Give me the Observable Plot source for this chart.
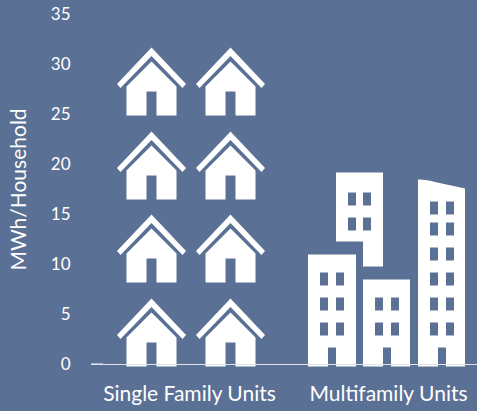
<!DOCTYPE html>
<html>
<head>
<meta charset="utf-8">
<script src="https://cdn.jsdelivr.net/npm/d3@7"></script>
<script src="https://cdn.jsdelivr.net/npm/@observablehq/plot@0.6"></script>
<style>
html,body{margin:0;padding:0;background:#5a7095;overflow:hidden}
svg{display:block}
</style>
</head>
<body>
<div id="chart"></div>
<script>
const categories = ["Single Family Units", "Multifamily Units"];
const houseLevels = [3.2, 11.6, 19.9, 28.3];
const apartmentLevels = [9.5];
const yTicks = [0, 5, 10, 15, 20, 25, 30, 35];
const stubLevels = [0.1];
const yTitle = ["MWh/Household"];
const bg = "#5a7095";

function poly(c, pts) {
  pts.forEach(([x, y], i) => i ? c.lineTo(x, y) : c.moveTo(x, y));
  c.closePath();
}
function hole(c, x, y, w, h) {
  poly(c, [[x, y], [x, y + h], [x + w, y + h], [x + w, y]]);
}
const houseSymbol = {
  draw(c) {
    poly(c, [[0, -34], [34.5, 2.5], [31, 6.5], [0, -25.5], [-31, 6.5], [-34.5, 2.5]]);
    poly(c, [[0, -20], [25, 5], [25, 34], [5, 34], [5, 10], [-5, 10], [-5, 34], [-25, 34], [-25, 5]]);
  }
};
function tower(c, x0, x1, top, doorX, rows, cols) {
  poly(c, [[x0, top], [x1, top], [x1, 97], [doorX + 8, 97], [doorX + 8, 78], [doorX, 78], [doorX, 97], [x0, 97]]);
  rows.forEach(y => cols.forEach(x => hole(c, x, y, 8, 13)));
}
const apartmentSymbol = {
  draw(c) {
    tower(c, -80, -32, -15, -60, [3, 28, 53], [-68, -52]);
    tower(c, -25, 22, 10, -5, [28, 53], [-13, 3]);
    poly(c, [[-52, -97], [-5, -97], [-5, -3], [-25, -3], [-25, -28], [-52, -28]]);
    [-77, -52].forEach(y => [-40, -25].forEach(x => hole(c, x, y, 8, 13)));
    c.moveTo(30, -90);
    c.quadraticCurveTo(40, -90, 47, -87.5);
    c.lineTo(77, -81);
    c.lineTo(77, 97);
    c.lineTo(58, 97);
    c.lineTo(58, 78);
    c.lineTo(50, 78);
    c.lineTo(50, 97);
    c.lineTo(30, 97);
    c.closePath();
    [-68, -47, -22, 3, 28, 53].forEach(y => [42, 58].forEach(x => hole(c, x, y, 8, 13)));
  }
};

const chart = Plot.plot({
  width: 477,
  height: 411,
  marginTop: 14,
  marginBottom: 47,
  marginLeft: 91,
  marginRight: 0,
  style: {background: bg, fontFamily: "Lato, sans-serif", color: "white", overflow: "hidden"},
  x: {type: "point", domain: categories, range: [189, 388.5], padding: 0},
  y: {domain: [0, 35], range: [364, 14]},
  marks: [
    Plot.dot(houseLevels, {x: () => categories[0], y: d => d, dx: -38, symbol: houseSymbol, fill: "white", stroke: "none"}),
    Plot.dot(houseLevels, {x: () => categories[0], y: d => d, dx: 41, symbol: houseSymbol, fill: "white", stroke: "none"}),
    Plot.dot(apartmentLevels, {x: () => categories[1], y: d => d, dx: -0.5, symbol: apartmentSymbol, fill: "white", stroke: "none"}),
    Plot.ruleY([0], {stroke: "#dfe4ec", strokeWidth: 1}),
    Plot.ruleY(stubLevels, {stroke: "#a9b6ca", strokeWidth: 1, insetRight: 374}),
    Plot.axisY({
      ticks: yTicks, tickSize: 0, tickPadding: 21, tickFormat: d => d,
      fontSize: 17, fill: "white", label: null
    }),
    Plot.axisX({
      tickSize: 0, tickPadding: 22, fontSize: 21, fill: "white", label: null
    }),
    Plot.text(yTitle, {
      text: d => d, frameAnchor: "middle", rotate: -90, dx: -265, dy: 0,
      fontSize: 21, fill: "white"
    })
  ]
});
document.getElementById("chart").append(chart);
</script>
</body>
</html>
